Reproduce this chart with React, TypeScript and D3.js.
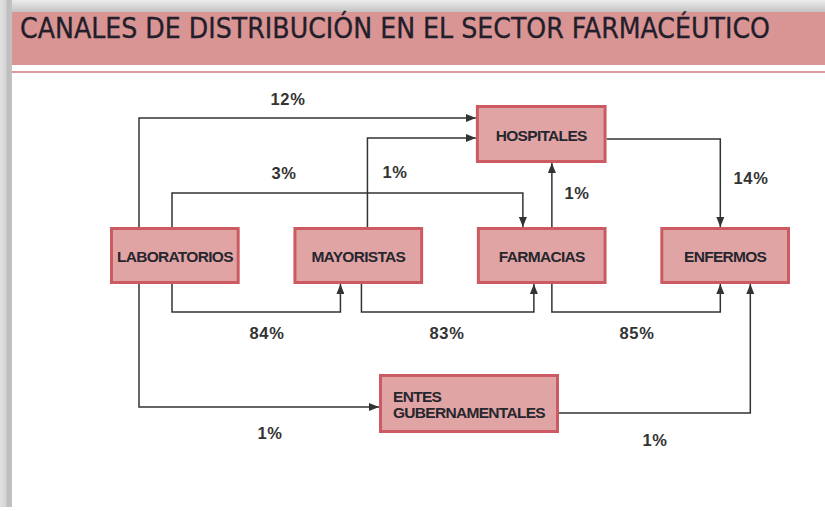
import React from "react";
import * as d3 from "d3";

const TITLE = "CANALES DE DISTRIBUCIÓN EN EL SECTOR FARMACÉUTICO";
const rowNodes = ["LABORATORIOS", "MAYORISTAS", "FARMACIAS", "ENFERMOS"];
const topNode = "HOSPITALES";
const bottomNodeLines = ["ENTES", "GUBERNAMENTALES"];
const flowFrom = ["LAB", "MAY", "LAB", "FARM", "HOSP", "LAB", "MAY", "FARM", "LAB", "ENTES"];
const flowTo = ["HOSP", "HOSP", "FARM", "HOSP", "ENF", "MAY", "FARM", "ENF", "ENTES", "ENF"];
const flowPct = [12, 1, 3, 1, 14, 84, 83, 85, 1, 1];

const W = 825;
const H = 511;
const LINE = "#333333";
const BOX_FILL = "#e1a4a4";
const BOX_STROKE = "#cb5a62";
const FONT = "'Liberation Sans', Arial, Helvetica, sans-serif";

export default function App() {
  const col = d3.scaleBand<string>().domain(rowNodes).range([110, 790]).paddingInner(0.293).paddingOuter(0);
  const bw = col.bandwidth();
  const rowY = d3.scalePoint<string>().domain(["top", "mid", "bot"]).range([105, 374]);
  const bh = 57;

  type Box = { x: number; y: number; w: number; h: number };
  const boxes: Record<string, Box> = {
    LAB: { x: col("LABORATORIOS")!, y: 227, w: bw, h: bh },
    MAY: { x: col("MAYORISTAS")!, y: 227, w: bw, h: bh },
    FARM: { x: col("FARMACIAS")!, y: 227, w: bw, h: bh },
    ENF: { x: col("ENFERMOS")!, y: 227, w: bw, h: bh },
    HOSP: { x: col("FARMACIAS")! - 1, y: rowY("top")!, w: bw + 1, h: 58 },
    ENTES: { x: 379, y: rowY("bot")!, w: 180, h: 59 },
  };
  const L = boxes.LAB, M = boxes.MAY, F = boxes.FARM, E = boxes.ENF, Ho = boxes.HOSP, G = boxes.ENTES;
  const labX1 = L.x + 29, labX2 = L.x + 62;
  const mayUp = M.x + 74, mayDown = M.x + 68;
  const farmMid = F.x + 75;

  // orthogonal routes and label anchors, one per flow (same order as data)
  const routes: { pts: [number, number][]; lx: number; ly: number }[] = [
    { pts: [[labX1, L.y], [labX1, 118], [Ho.x, 118]], lx: 288, ly: 99 },
    { pts: [[mayUp, M.y], [mayUp, 138], [Ho.x, 138]], lx: 395, ly: 172 },
    { pts: [[labX2, L.y], [labX2, 193], [F.x + 46, 193], [F.x + 46, F.y]], lx: 284, ly: 173 },
    { pts: [[farmMid, F.y], [farmMid, Ho.y + Ho.h]], lx: 577, ly: 193 },
    { pts: [[Ho.x + Ho.w, 139], [E.x + 60, 139], [E.x + 60, E.y]], lx: 751, ly: 178 },
    { pts: [[labX2, L.y + L.h], [labX2, 312], [M.x + 47, 312], [M.x + 47, M.y + M.h]], lx: 267, ly: 333 },
    { pts: [[mayDown, M.y + M.h], [mayDown, 312], [F.x + 57, 312], [F.x + 57, F.y + F.h]], lx: 447, ly: 333 },
    { pts: [[farmMid, F.y + F.h], [farmMid, 312], [E.x + 60, 312], [E.x + 60, E.y + E.h]], lx: 637, ly: 333 },
    { pts: [[labX1, L.y + L.h], [labX1, 407], [G.x, 407]], lx: 270, ly: 433 },
    { pts: [[G.x + G.w, 413], [E.x + 90, 413], [E.x + 90, E.y + E.h]], lx: 655, ly: 440 },
  ];
  const line = d3.line<[number, number]>().curve(d3.curveLinear);

  const rowLabels: Record<string, string> = { LAB: rowNodes[0], MAY: rowNodes[1], FARM: rowNodes[2], ENF: rowNodes[3], HOSP: topNode };

  return (
    <svg width={W} height={H} style={{ position: "absolute", left: 0, top: 0, background: "#fff" }}>
      <defs>
        <linearGradient id="topShade" x1="0" y1="0" x2="0" y2="1">
          <stop offset="0" stopColor="#ececec" />
          <stop offset="1" stopColor="#c4c4c4" />
        </linearGradient>
        <linearGradient id="leftShade" x1="0" y1="0" x2="1" y2="0">
          <stop offset="0" stopColor="#e0e0e0" />
          <stop offset="0.5" stopColor="#d4d4d4" />
          <stop offset="0.6" stopColor="#bdbdbd" />
          <stop offset="1" stopColor="#c2c2c2" />
        </linearGradient>
        <marker id="arr" markerUnits="userSpaceOnUse" viewBox="0 0 10 8" refX="10" refY="4" markerWidth="10" markerHeight="8" orient="auto">
          <path d="M0,0 L10,4 L0,8 Z" fill={LINE} />
        </marker>
      </defs>
      <rect x={0} y={0} width={W} height={H} fill="#fff" />
      <rect x={0} y={0} width={W} height={12} fill="url(#topShade)" />
      <rect x={0} y={0} width={12} height={507} fill="url(#leftShade)" />
      <rect x={12} y={12} width={W - 12} height={53} fill="#d99494" />
      <rect x={12} y={71} width={W - 12} height={2} fill="#dc9c9c" />
      <text x={20} y={38} fontFamily="'Liberation Sans Narrow', 'DejaVu Sans Condensed', 'Liberation Sans', sans-serif" fontSize={28} fill="#221e2a" stroke="#221e2a" strokeWidth={0.3} textLength={750} lengthAdjust="spacingAndGlyphs">
        {TITLE}
      </text>

      {routes.map((r, i) => (
        <g key={i}>
          <path d={line(r.pts)!} fill="none" stroke={LINE} strokeWidth={1.5} markerEnd="url(#arr)" />
          <text x={r.lx} y={r.ly} textAnchor="middle" dominantBaseline="central" fontFamily={FONT} fontWeight="bold" fontSize={16.5} letterSpacing={0.6} fill="#333" data-from={flowFrom[i]} data-to={flowTo[i]}>
            {flowPct[i]}%
          </text>
        </g>
      ))}

      {Object.entries(boxes).map(([k, b]) => (
        <g key={k}>
          <rect x={b.x + 1.5} y={b.y + 1.5} width={b.w - 3} height={b.h - 3} fill={BOX_FILL} stroke={BOX_STROKE} strokeWidth={3} />
          {k !== "ENTES" ? (
            <text x={b.x + b.w / 2} y={b.y + b.h / 2 + 1} textAnchor="middle" dominantBaseline="central" fontFamily={FONT} fontWeight="bold" fontSize={15.5} letterSpacing={-0.7} fill="#26262e">
              {rowLabels[k]}
            </text>
          ) : (
            bottomNodeLines.map((t, j) => (
              <text key={j} x={b.x + 14} y={b.y + 22 + j * 16} dominantBaseline="central" fontFamily={FONT} fontWeight="bold" fontSize={15.5} letterSpacing={-0.7} fill="#26262e">
                {t}
              </text>
            ))
          )}
        </g>
      ))}
    </svg>
  );
}
